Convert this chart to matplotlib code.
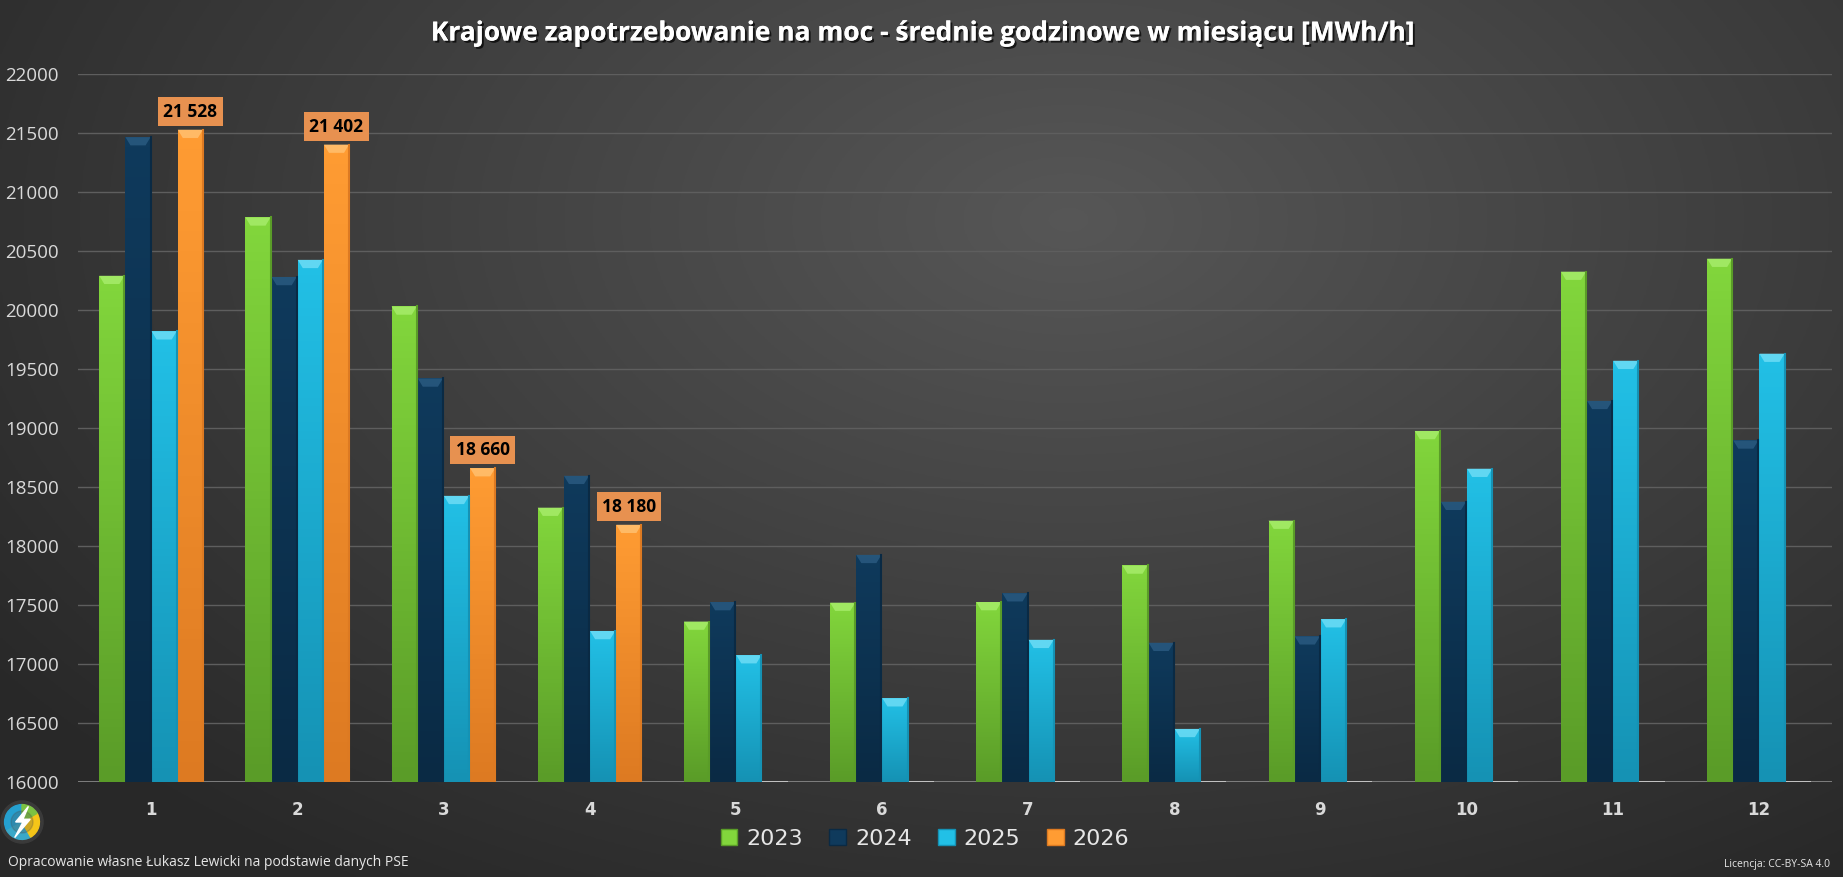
import numpy as np
import matplotlib
matplotlib.use("Agg")
import matplotlib.pyplot as plt
import matplotlib.patheffects as pe
from matplotlib.patches import Rectangle, Circle, Wedge, Polygon

months = ["1", "2", "3", "4", "5", "6", "7", "8", "9", "10", "11", "12"]
years = ["2023", "2024", "2025", "2026"]
v2023 = [20290, 20785, 20030, 18325, 17360, 17520, 17525, 17835, 18215, 18975, 20325, 20435]
v2024 = [21465, 20280, 19420, 18595, 17525, 17925, 17600, 17180, 17235, 18375, 19230, 18895]
v2025 = [19820, 20425, 18425, 17280, 17075, 16710, 17205, 16450, 17380, 18655, 19570, 19630]
v2026 = [21528, 21402, 18660, 18180, None, None, None, None, None, None, None, None]

colors_top = ["#82d63c", "#0f3a5c", "#22c0e6", "#ff9c33"]
colors_bot = ["#5a9c28", "#0a2a44", "#1592b4", "#dd7a22"]
cap_col = ["#a6ec6a", "#2a5a80", "#6ddcf5", "#ffc070"]

W, H = 1843, 877
fig = plt.figure(figsize=(W / 100, H / 100), dpi=100)

# background radial gradient
bg = fig.add_axes([0, 0, 1, 1], zorder=-10)
yy, xx = np.mgrid[0:1:300j, 0:1:600j]
r = np.sqrt(((xx - 0.58) / 0.75) ** 2 + ((yy - 0.25) / 0.95) ** 2)
shade = np.clip(0.34 - 0.19 * r, 0.16, 0.34)
bg.imshow(np.dstack([shade] * 3), extent=[0, 1, 0, 1], aspect="auto", origin="upper")
bg.set_axis_off()

ax = fig.add_axes([78 / W, 1 - 782 / H, (1832 - 78) / W, (782 - 74) / H])
ax.set_facecolor("none")
ax.set_xlim(-0.5, 11.5)
ax.set_ylim(16000, 22000)
ax.set_yticks(range(16000, 22001, 500))
ax.yaxis.grid(True, color="#5e5e5e", linewidth=1)
ax.set_axisbelow(True)
for s in ax.spines.values():
    s.set_visible(False)
ax.axhline(16000, color="#8a8a8a", linewidth=1.2, zorder=1)
ax.tick_params(axis="both", length=0)
ax.tick_params(axis="y", labelsize=13.5, labelcolor="#d9d9d9", pad=14)
ax.set_xticks(range(12))
ax.set_xticklabels(months, fontsize=12, fontweight="bold", color="#d9d9d9")
ax.tick_params(axis="x", pad=14)
for lab in ax.get_yticklabels():
    lab.set_family(["Open Sans", "DejaVu Sans"])

x = np.arange(12)
pitch = 0.179
bw = 0.172
series = [v2023, v2024, v2025, v2026]
grad = np.linspace(0, 1, 64).reshape(-1, 1)
for i, vals in enumerate(series):
    xs = x + (i - 1.5) * pitch
    hs = [(v - 16000) if v is not None else 0 for v in vals]
    bars = ax.bar(xs, hs, bw, bottom=16000, color=colors_top[i], zorder=3,
                  edgecolor="none", label=years[i])
    cmap = matplotlib.colors.LinearSegmentedColormap.from_list(
        "g%d" % i, [colors_top[i], colors_bot[i]])
    for b, v in zip(bars, vals):
        if v is None:
            ax.plot([b.get_x(), b.get_x() + bw], [16000, 16000], color="#cfcfcf",
                    linewidth=1.2, zorder=4, solid_capstyle="butt")
            continue
        x0, x1 = b.get_x(), b.get_x() + bw
        im = ax.imshow(grad, extent=[x0, x1, 16000, v], aspect="auto", cmap=cmap,
                       origin="upper", zorder=3.5)
        im.set_clip_path(b)
        # bevel cap on top
        capd = 70
        ax.add_patch(Polygon([[x0, v], [x1, v], [x1 - bw * 0.2, v - capd],
                              [x0 + bw * 0.2, v - capd]], closed=True,
                             facecolor=cap_col[i], edgecolor="none", zorder=4, alpha=0.85))
        ax.plot([x1, x1], [16000, v], color=colors_bot[i], linewidth=1.5, zorder=4)
        if i == 3:
            ax.annotate(f"{v:,}".replace(",", " "), (b.get_x() + bw / 2, v),
                        xytext=(0, 13), textcoords="offset points", ha="center",
                        va="center", fontsize=12.5, fontweight="bold", color="black",
                        family=["Open Sans", "DejaVu Sans"], zorder=6,
                        bbox=dict(boxstyle="square,pad=0.3", fc="#e79150", ec="none"))
ax.set_xlim(-0.5, 11.5)
ax.set_ylim(16000, 22000)

# title
fig.text(0.5, 1 - 33 / H, "Krajowe zapotrzebowanie na moc - średnie godzinowe w miesiącu [MWh/h]",
         ha="center", va="center", fontsize=19, fontweight="bold", color="white",
         family=["Open Sans", "DejaVu Sans"],
         path_effects=[pe.withSimplePatchShadow(offset=(1.5, -1.5), shadow_rgbFace="black", alpha=0.7),
                       pe.Normal()])

# legend
handles = [Rectangle((0, 0), 1, 1, facecolor=c, edgecolor=e) for c, e in zip(colors_top, colors_bot)]
leg = fig.legend(handles, years, loc="center", bbox_to_anchor=(925 / W, 1 - 839 / H), ncol=4,
                 frameon=False, fontsize=16, labelcolor="#e6e6e6", handlelength=0.75,
                 handleheight=0.75, handletextpad=0.4, columnspacing=1.2)

# footer
fig.text(8 / W, 1 - 862 / H, "Opracowanie własne Łukasz Lewicki na podstawie danych PSE",
         ha="left", va="center", fontsize=10, color="#e6e6e6", family=["Open Sans", "DejaVu Sans"])
fig.text(1830 / W, 1 - 864 / H, "Licencja: CC-BY-SA 4.0", ha="right", va="center",
         fontsize=7.5, color="#e6e6e6", family=["Open Sans", "DejaVu Sans"])

# logo
la = fig.add_axes([0 / W, 1 - 852 / H, 44 / W, 60 / H])
la.set_xlim(-1.2, 1.2)
la.set_ylim(-1.2, 1.2)
la.set_aspect("equal")
la.set_axis_off()
la.add_patch(Circle((0, 0), 1.15, color="#3a3a3a"))
la.add_patch(Wedge((0, 0), 0.95, 90, 210, color="#25a0d0"))
la.add_patch(Wedge((0, 0), 0.95, 210, 300, color="#3aa8c8"))
la.add_patch(Wedge((0, 0), 0.95, 300, 30, color="#f5c518"))
la.add_patch(Wedge((0, 0), 0.95, 30, 90, color="#7cc242"))
la.add_patch(Circle((0, 0), 0.6, color="#4a4a4a", alpha=0.25))
la.add_patch(Polygon([[0.35, 0.85], [-0.35, 0.0], [0.05, 0.0], [-0.4, -0.85],
                      [0.45, 0.15], [0.05, 0.15]], closed=True, color="white"))

fig.savefig("out.png", dpi=100)
